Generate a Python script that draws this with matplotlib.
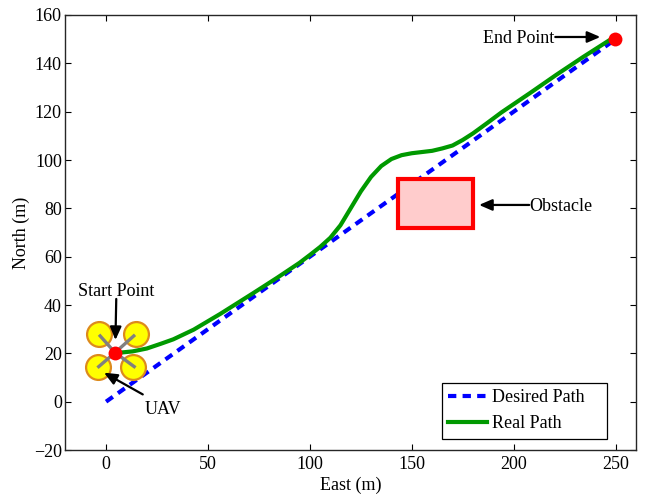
import matplotlib
matplotlib.use('Agg')
import matplotlib.pyplot as plt
from matplotlib.patches import Rectangle

plt.rcParams['font.family'] = ['Liberation Serif', 'DejaVu Serif']
plt.rcParams['font.size'] = 13

# paths
desired_x = [0, 250]
desired_y = [0, 150]
real_x = [4.4, 7, 13, 20, 27, 33, 43, 56, 72, 84, 95, 100, 105, 110, 115, 120, 125, 130, 135, 140,
          145, 150, 155, 160, 165, 170, 175, 180, 187, 194, 208, 221, 234, 247, 250]
real_y = [20.3, 20.3, 20.8, 22, 24, 25.8, 29.8, 36.3, 44.8, 51.3, 57.5, 60.7, 64, 67.8, 73, 80, 87, 93, 97.5, 100.4,
          102, 102.8, 103.3, 103.8, 104.8, 106, 108.3, 111, 115.3, 119.7, 127.7, 135.3, 142.6, 149.6, 150]

# start / end points
point_x = [4.4, 249.5]
point_y = [20.3, 150]

# uav drawing, one rotor per arm
rotor_x = [-3.6, 14.5, -3.9, 13.4]
rotor_y = [27.9, 27.9, 14.5, 14.5]
arm_x = [-2.9, 13.6, -3.6, 13.8]
arm_y = [27.2, 27.2, 14.5, 14.5]

# obstacle: x, y, width, height
obstacle = (143.3, 72, 36.6, 20)

# label text, its position, arrow tail and arrow tip
notes = ['Start Point', 'UAV', 'End Point', 'Obstacle']
note_x = [5, 28, 220, 207.8]
note_y = [46.6, -2.4, 150.9, 81.4]
note_ha = ['center', 'center', 'right', 'left']
tail_x = [5, 18, 220.4, 207.6]
tail_y = [42.5, 3, 150.9, 81.4]
tip_x = [4.6, -1, 242.5, 183]
tip_y = [25.5, 12, 150.9, 81.4]

xticks = [0, 50, 100, 150, 200, 250]
yticks = [-20, 0, 20, 40, 60, 80, 100, 120, 140, 160]
ylabels = ['\u221220', '0', '20', '40', '60', '80', '100', '120', '140', '160']

fig = plt.figure(figsize=(6.46, 4.98), dpi=100)
ax = fig.add_axes([65.3 / 646, 1 - 450 / 498, 570.7 / 646, 435 / 498])

ax.add_patch(Rectangle(obstacle[:2], obstacle[2], obstacle[3], facecolor='#ffcccc',
                       edgecolor='#ff0000', linewidth=3, zorder=4))

ax.plot(desired_x, desired_y, color='#0000ff', linestyle=(0, (2, 1.5)), linewidth=3,
        label='Desired Path', zorder=2)
ax.plot(real_x, real_y, color='#009900', linewidth=3, label='Real Path', zorder=3)

# uav body
for x, y in zip(arm_x, arm_y):
    ax.plot([point_x[0], x], [point_y[0], y], color='#808080', linewidth=2.4, zorder=6)
ax.scatter(rotor_x, rotor_y, s=320, facecolor='#ffff00', edgecolor='#dd8a1c', linewidth=1.6, zorder=5)
ax.scatter(point_x, point_y, s=100, color='#ff0000', linewidth=0, zorder=7)

arrow = dict(arrowstyle='-|>,head_width=0.26,head_length=0.6', color='black', linewidth=1.6,
             shrinkA=0, shrinkB=0)
for i in range(len(notes)):
    ax.text(note_x[i], note_y[i], notes[i], ha=note_ha[i], va='center_baseline', zorder=8)
    ax.annotate('', xy=(tip_x[i], tip_y[i]), xytext=(tail_x[i], tail_y[i]), arrowprops=arrow, zorder=8)

ax.set_xlim(-20, 260)
ax.set_ylim(-20, 160)
ax.set_xticks(xticks)
ax.set_yticks(yticks)
ax.set_yticklabels(ylabels)
ax.tick_params(direction='in', length=4.2, width=0.8, top=True, right=True, labelsize=13)
ax.tick_params(axis='y', pad=2.5)
ax.tick_params(axis='x', pad=4)
for s in ax.spines.values():
    s.set_linewidth(1.0)
    s.set_color('#262626')
ax.set_xlabel('East (m)', fontsize=13, labelpad=3)
ax.set_ylabel('North (m)', fontsize=13, labelpad=2.5)

leg = ax.legend(loc='lower left', bbox_to_anchor=(376.4 / 570.7, 11.5 / 435, 165 / 570.7, 55.5 / 435),
                mode='expand', fontsize=13, fancybox=False, framealpha=1, edgecolor='black',
                borderaxespad=0, handlelength=2.15, handletextpad=0.3, labelspacing=0.5, borderpad=0.35)
leg.get_frame().set_linewidth(0.9)
leg.set_zorder(9)

fig.savefig('out.png', dpi=100)
